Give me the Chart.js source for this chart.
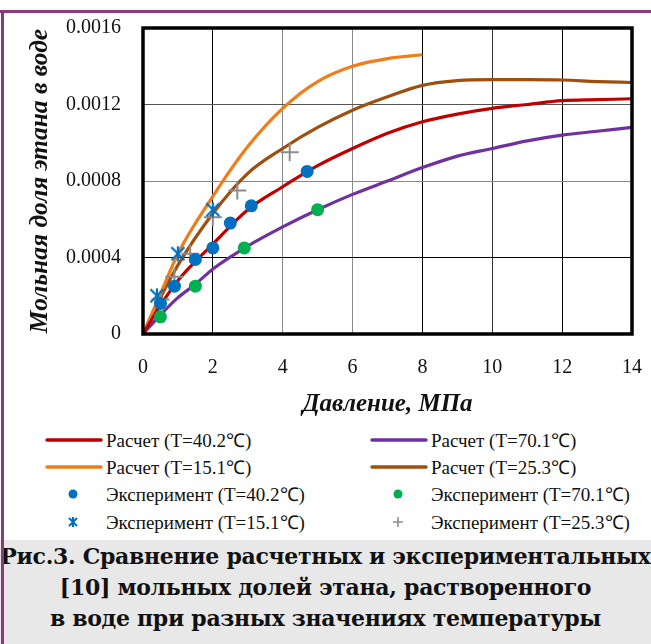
<!DOCTYPE html>
<html><head><meta charset="utf-8">
<script src="https://cdn.jsdelivr.net/npm/chart.js@4/dist/chart.umd.min.js"></script>
<style>
body{margin:0;background:#fff;}
#wrap{position:relative;width:651px;height:644px;overflow:hidden;background:#fff;font-family:"Liberation Serif","Times New Roman",serif;}
#topline{position:absolute;left:0;top:10px;width:651px;height:3px;background:#8B3A7E;}
#leftline{position:absolute;left:1px;top:10px;width:3px;height:634px;background:#8B3A7E;z-index:5;}
#cv{position:absolute;left:0;top:0;}
.item{position:absolute;height:24px;display:flex;align-items:center;font-family:"Liberation Serif",serif;font-size:19px;color:#111;white-space:nowrap;}
.item canvas{margin-right:3px;}
#caption{position:absolute;left:0;top:540px;width:651px;height:104px;background:#E8E8E8;text-align:center;font-family:"DejaVu Serif",serif;font-weight:bold;font-size:22px;line-height:31px;color:#111;white-space:nowrap;padding-top:1px;letter-spacing:-0.3px;}
</style>
</head><body>
<div id="wrap">
<canvas id="cv" width="651" height="420"></canvas>
<div id="topline"></div><div id="leftline"></div>
<div id="legend"></div>
<div id="caption">Рис.3. Сравнение расчетных и экспериментальных<br>[10] мольных долей этана, растворенного<br>в воде при разных значениях температуры</div>
</div>
<script>
// ---- data ----
const xTicks = [0, 2, 4, 6, 8, 10, 12, 14];
const yTickLabels = ['0', '0.0004', '0.0008', '0.0012', '0.0016'];

const calc402X = [0, 0.5, 1, 1.5, 2, 3, 4, 5, 6, 7, 8, 9, 10, 11, 12, 13, 14];
const calc402Y = [0, 0.00015, 0.00028, 0.00038, 0.00047, 0.00065, 0.00077, 0.00088, 0.00097, 0.00105, 0.00111, 0.00115, 0.00118, 0.0012, 0.00122, 0.001225, 0.00123];

const calc701X = [0, 0.5, 1, 1.5, 2, 3, 4, 5, 6, 7, 8, 9, 10, 11, 12, 13, 14];
const calc701Y = [0, 0.0001, 0.00019, 0.00026, 0.00034, 0.00046, 0.00056, 0.00065, 0.00073, 0.0008, 0.00087, 0.00093, 0.00097, 0.00101, 0.00104, 0.00106, 0.00108];

const calc151X = [0, 0.5, 1, 2, 3, 4, 5, 6, 7, 8];
const calc151Y = [0, 0.00021, 0.00042, 0.00072, 0.00098, 0.00118, 0.00132, 0.0014, 0.00144, 0.00146];

const calc253X = [0, 0.5, 1, 2, 3, 4, 5, 6, 7, 8, 9, 10, 11, 12, 13, 14];
const calc253Y = [0, 0.00019, 0.00036, 0.00063, 0.00084, 0.00097, 0.00108, 0.00117, 0.00124, 0.0013, 0.001325, 0.00133, 0.00133, 0.001328, 0.00132, 0.001315];

const exp402X = [0.5, 0.9, 1.5, 2.0, 2.5, 3.1, 4.7];
const exp402Y = [0.00016, 0.00025, 0.00039, 0.00045, 0.00058, 0.00067, 0.00085];

const exp701X = [0.5, 1.5, 2.9, 5.0];
const exp701Y = [0.00009, 0.00025, 0.00045, 0.00065];

const exp151X = [0.4, 1.0, 2.0];
const exp151Y = [0.0002, 0.00042, 0.00065];

const exp253X = [0.5, 0.9, 1.35, 2.0, 2.7, 4.2];
const exp253Y = [0.00018, 0.0003, 0.00042, 0.00061, 0.00075, 0.00095];

const labels = {
  c402: 'Расчет (T=40.2℃)', c701: 'Расчет (T=70.1℃)',
  c151: 'Расчет (T=15.1℃)', c253: 'Расчет (T=25.3℃)',
  e402: 'Эксперимент (T=40.2℃)', e701: 'Эксперимент (T=70.1℃)',
  e151: 'Эксперимент (T=15.1℃)', e253: 'Эксперимент (T=25.3℃)'
};

// ---- helpers ----
const pts = (xs, ys) => xs.map((x, i) => ({x: x, y: ys[i]}));

function starImage(size, color) {
  const c = document.createElement('canvas');
  c.width = size; c.height = size;
  const g = c.getContext('2d');
  g.strokeStyle = color; g.lineWidth = 2.2;
  const m = 1.5, s = size - 1.5;
  g.beginPath();
  g.moveTo(m, m); g.lineTo(s, s);
  g.moveTo(s, m); g.lineTo(m, s);
  g.moveTo(size / 2, 0.5); g.lineTo(size / 2, size - 0.5);
  g.stroke();
  return c;
}

const COL = {
  red: '#C00000', purple: '#7030A0', orange: '#EF7D1A', brown: '#9E4F0E',
  blue: '#0070C0', green: '#00B050', gray: '#8C8C8C'
};

const lineDS = (label, xs, ys, color) => ({
  type: 'line', label, data: pts(xs, ys), borderColor: color, backgroundColor: color,
  borderWidth: 3.2, pointRadius: 0, cubicInterpolationMode: 'monotone', fill: false, order: 2, kind: 'line'
});

const starImg = starImage(16, COL.blue);

const datasets = [
  lineDS(labels.c402, calc402X, calc402Y, COL.red),
  lineDS(labels.c701, calc701X, calc701Y, COL.purple),
  lineDS(labels.c151, calc151X, calc151Y, COL.orange),
  lineDS(labels.c253, calc253X, calc253Y, COL.brown),
  {type: 'scatter', label: labels.e402, data: pts(exp402X, exp402Y), pointStyle: 'circle', pointRadius: 6.5,
   backgroundColor: COL.blue, borderColor: COL.blue, borderWidth: 0, order: 0, kind: 'circle'},
  {type: 'scatter', label: labels.e701, data: pts(exp701X, exp701Y), pointStyle: 'circle', pointRadius: 6.5,
   backgroundColor: COL.green, borderColor: COL.green, borderWidth: 0, order: 0, kind: 'circle'},
  {type: 'scatter', label: labels.e151, data: pts(exp151X, exp151Y), pointStyle: starImg, pointRadius: 8,
   backgroundColor: COL.blue, borderColor: COL.blue, order: 0, kind: 'star'},
  {type: 'scatter', label: labels.e253, data: pts(exp253X, exp253Y), pointStyle: 'cross', pointRadius: 9,
   backgroundColor: COL.gray, borderColor: COL.gray, borderWidth: 2, order: 0, kind: 'cross'}
];

const xGridCol = {2: '#000', 4: '#8a8a8a', 6: '#8a8a8a', 8: '#000', 10: '#333', 12: '#000'};
const yGridCol = {'0.0004': '#000', '0.0008': '#8a8a8a', '0.0012': '#555'};

const framePlugin = {
  id: 'frame',
  afterDatasetsDraw(chart) {
    const a = chart.chartArea, c = chart.ctx;
    c.save();
    c.strokeStyle = '#000'; c.lineWidth = 3.5;
    c.strokeRect(a.left, a.top, a.right - a.left, a.bottom - a.top);
    c.restore();
  }
};

const chart = new Chart(document.getElementById('cv'), {
  data: {datasets},
  options: {
    responsive: false, animation: false,
    layout: {padding: {left: 22, right: 19, top: 28, bottom: 0}},
    plugins: {legend: {display: false}, tooltip: {enabled: false}},
    scales: {
      x: {
        type: 'linear', min: 0, max: 14,
        afterBuildTicks: s => { s.ticks = xTicks.map(v => ({value: v})); },
        afterFit: s => { s.height = 86; s.paddingLeft = 0; s.paddingRight = 0; },
        ticks: {color: '#111', font: {family: 'Liberation Serif', size: 20}, padding: 22,
                callback: v => String(v)},
        grid: {drawTicks: false, lineWidth: 1,
               color: c => xGridCol[c.tick && c.tick.value] || 'rgba(0,0,0,0)'},
        border: {display: false},
        title: {display: true, text: 'Давление, МПа', color: '#111',
                font: {family: 'Liberation Serif', size: 25, weight: 'bold', style: 'italic'}, padding: {top: 2, bottom: 0}}
      },
      y: {
        type: 'linear', min: 0, max: 0.0016,
        afterBuildTicks: s => { s.ticks = yTickLabels.map(t => ({value: parseFloat(t)})); },
        afterFit: s => { s.width = 121; s.paddingTop = 0; s.paddingBottom = 0; },
        ticks: {color: '#111', font: {family: 'Liberation Serif', size: 20}, padding: 22,
                callback: (v, i) => yTickLabels[i]},
        grid: {drawTicks: false, lineWidth: 1,
               color: c => yGridCol[c.tick && yTickLabels[c.index]] || 'rgba(0,0,0,0)'},
        border: {display: false},
        title: {display: true, text: 'Мольная доля этана в воде', color: '#111',
                font: {family: 'Liberation Serif', size: 25.5, weight: 'bold', style: 'italic'}, padding: {top: 3, bottom: 0}}
      }
    }
  },
  plugins: [framePlugin]
});

// ---- HTML legend built from datasets ----
const legend = document.getElementById('legend');
const colX = [45, 370];
const rowY = [428, 455, 482, 510];
datasets.forEach((ds, k) => {
  const item = document.createElement('div');
  item.className = 'item';
  item.style.left = colX[k % 2] + 'px';
  item.style.top = rowY[Math.floor(k / 2)] + 'px';
  const sc = document.createElement('canvas');
  sc.width = 58; sc.height = 20;
  const g = sc.getContext('2d');
  const col = ds.borderColor;
  if (ds.kind === 'line') {
    g.strokeStyle = col; g.lineWidth = 3.5; g.lineCap = 'round';
    g.beginPath(); g.moveTo(2, 10); g.lineTo(56, 10); g.stroke();
  } else if (ds.kind === 'circle') {
    g.fillStyle = col; g.beginPath(); g.arc(28, 10, 4.5, 0, Math.PI * 2); g.fill();
  } else if (ds.kind === 'star') {
    g.strokeStyle = col; g.lineWidth = 2;
    g.beginPath();
    g.moveTo(24, 6); g.lineTo(32, 14); g.moveTo(32, 6); g.lineTo(24, 14);
    g.moveTo(28, 5); g.lineTo(28, 15); g.stroke();
  } else {
    g.strokeStyle = col; g.lineWidth = 1.5;
    g.beginPath(); g.moveTo(23, 10); g.lineTo(33, 10); g.moveTo(28, 5); g.lineTo(28, 15); g.stroke();
  }
  item.appendChild(sc);
  const t = document.createElement('span');
  t.textContent = ds.label;
  item.appendChild(t);
  legend.appendChild(item);
});
</script>
</body></html>
